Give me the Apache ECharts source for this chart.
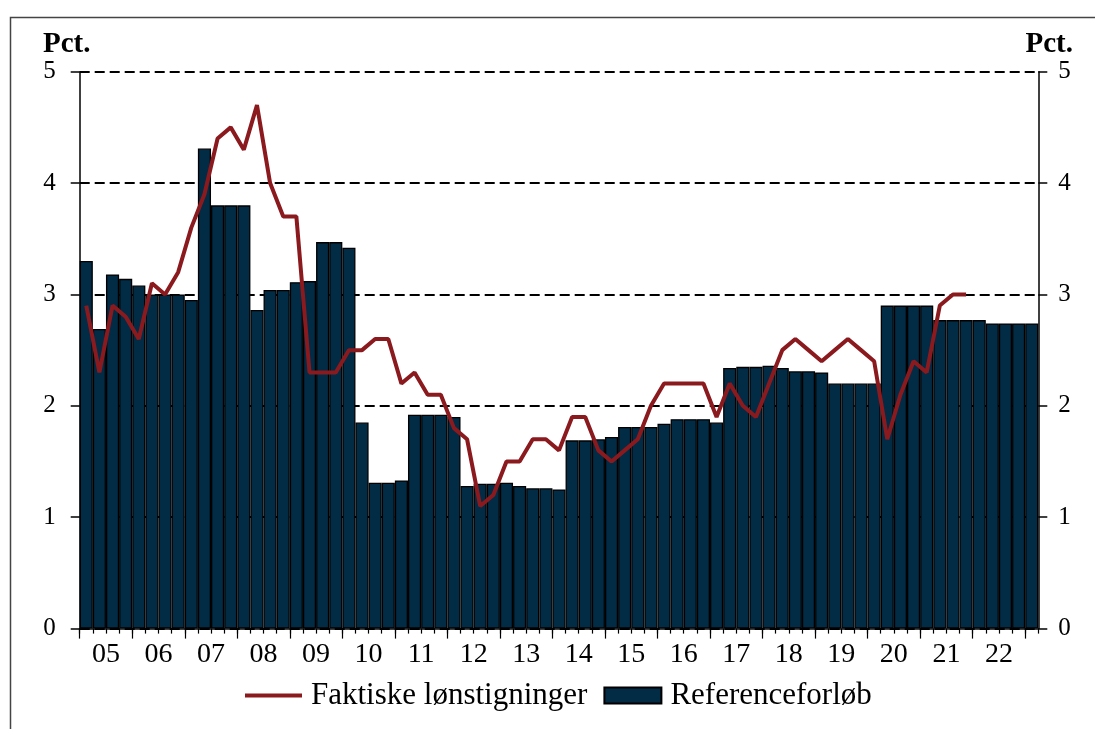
<!DOCTYPE html>
<html>
<head>
<meta charset="utf-8">
<script src="https://cdn.jsdelivr.net/npm/echarts@6/dist/echarts.min.js"></script>
<style>
html,body{margin:0;padding:0;background:#fff;}
#chart{width:1095px;height:729px;}
</style>
</head>
<body>
<div id="chart"></div>
<script>
// Quarters 2005K1 .. 2023K1
const years = ['05','06','07','08','09','10','11','12','13','14','15','16','17','18','19','20','21','22','23'];
const quarters = [];
years.forEach(y => { for (let q = 1; q <= 4; q++) quarters.push('20' + y + 'K' + q); });
const categories = quarters.slice(0, 73);

// Year tick labels on the axis
const yearLabels = ['05','06','07','08','09','10','11','12','13','14','15','16','17','18','19','20','21','22'];

// Referenceforløb (bars), pct.
const referenceforloeb = [
  3.30, 2.69, 3.18, 3.14,  3.08, 3.00, 3.00, 3.00,  2.95, 4.31, 3.80, 3.80,
  3.80, 2.86, 3.04, 3.04,  3.11, 3.12, 3.47, 3.47,  3.42, 1.85, 1.31, 1.31,
  1.33, 1.92, 1.92, 1.92,  1.90, 1.28, 1.30, 1.30,  1.31, 1.28, 1.26, 1.26,
  1.25, 1.69, 1.69, 1.70,  1.72, 1.81, 1.81, 1.81,  1.84, 1.88, 1.88, 1.88,
  1.85, 2.34, 2.35, 2.35,  2.36, 2.34, 2.31, 2.31,  2.30, 2.20, 2.20, 2.20,
  2.20, 2.90, 2.90, 2.90,  2.90, 2.77, 2.77, 2.77,  2.77, 2.74, 2.74, 2.74,
  2.74
];

// Faktiske lønstigninger (line), pct.
const faktiske = [
  2.9, 2.3, 2.9, 2.8,  2.6, 3.1, 3.0, 3.2,  3.6, 3.9, 4.4, 4.5,
  4.3, 4.7, 4.0, 3.7,  3.7, 2.3, 2.3, 2.3,  2.5, 2.5, 2.6, 2.6,
  2.2, 2.3, 2.1, 2.1,  1.8, 1.7, 1.1, 1.2,  1.5, 1.5, 1.7, 1.7,
  1.6, 1.9, 1.9, 1.6,  1.5, 1.6, 1.7, 2.0,  2.2, 2.2, 2.2, 2.2,
  1.9, 2.2, 2.0, 1.9,  2.2, 2.5, 2.6, 2.5,  2.4, 2.5, 2.6, 2.5,
  2.4, 1.7, 2.1, 2.4,  2.3, 2.9, 3.0, 3.0,
  null, null, null, null, null
];

const yTicks = [0, 1, 2, 3, 4, 5];

const FONT = '"Liberation Serif", "Times New Roman", serif';
const BAR_COLOR = '#022B46';
const LINE_COLOR = '#8B1A1F';

const chart = echarts.init(document.getElementById('chart'), null, {renderer: 'canvas'});

const yearTickPos = yearLabels.map((_, i) => i * 4).concat([72]);
const yearLabelPos = yearLabels.map((_, i) => i * 4 + 2);

const yAxisCommon = {
  type: 'value',
  min: yTicks[0],
  max: yTicks[yTicks.length - 1],
  interval: 1,
  axisLine: {show: true, lineStyle: {color: '#000', width: 1.5}},
  axisTick: {show: true, inside: false, length: 9, lineStyle: {color: '#000', width: 1.5}},
  axisLabel: {color: '#000', fontFamily: FONT, fontSize: 25}
};

chart.setOption({
  animation: false,
  backgroundColor: '#fff',
  textStyle: {fontFamily: FONT},
  grid: {left: 79.7, right: 56.7, top: 71.7, bottom: 100.4, containLabel: false},
  xAxis: [
    {
      type: 'category',
      data: categories,
      position: 'bottom',
      boundaryGap: true,
      axisLine: {show: true, lineStyle: {color: '#000', width: 1.5}},
      axisTick: {show: true, interval: 0, length: 5, lineStyle: {color: '#000', width: 1.2}},
      axisLabel: {show: false},
      splitLine: {show: false}
    },
    {
      type: 'value',
      min: 0,
      max: 73,
      position: 'bottom',
      axisLine: {show: false},
      axisTick: {show: true, length: 10, customValues: yearTickPos, lineStyle: {color: '#000', width: 1.2}},
      axisLabel: {
        show: true,
        customValues: yearLabelPos,
        margin: 12,
        color: '#000',
        fontFamily: FONT,
        fontSize: 28,
        formatter: v => yearLabels[Math.round((v - 2) / 4)]
      },
      splitLine: {show: false}
    }
  ],
  yAxis: [
    Object.assign({}, yAxisCommon, {
      position: 'left',
      splitLine: {show: true, lineStyle: {color: '#000', width: 1.8, type: [10, 5]}},
      axisLabel: Object.assign({}, yAxisCommon.axisLabel, {margin: 24})
    }),
    Object.assign({}, yAxisCommon, {
      position: 'right',
      splitLine: {show: false},
      axisLabel: Object.assign({}, yAxisCommon.axisLabel, {margin: 20})
    })
  ],
  legend: {
    left: 243,
    top: 680,
    padding: 0,
    itemGap: 16,
    itemWidth: 57,
    itemHeight: 16,
    textStyle: {color: '#000', fontFamily: FONT, fontSize: 31, padding: [0, 0, 0, 4]},
    data: [
      {
        name: 'Faktiske lønstigninger',
        itemStyle: {opacity: 0},
        lineStyle: {color: LINE_COLOR, width: 4}
      },
      {
        name: 'Referenceforløb',
        icon: 'rect',
        itemStyle: {color: BAR_COLOR, borderColor: '#000', borderWidth: 2}
      }
    ]
  },
  series: [
    {
      name: 'Referenceforløb',
      type: 'bar',
      xAxisIndex: 0,
      yAxisIndex: 0,
      data: referenceforloeb,
      barWidth: '100%',
      barCategoryGap: '0%',
      itemStyle: {color: BAR_COLOR, borderColor: '#000', borderWidth: 1.3},
      emphasis: {disabled: true}
    },
    {
      name: 'Faktiske lønstigninger',
      type: 'line',
      xAxisIndex: 0,
      yAxisIndex: 0,
      data: faktiske,
      symbol: 'none',
      connectNulls: false,
      lineStyle: {color: LINE_COLOR, width: 4},
      itemStyle: {color: LINE_COLOR},
      z: 5,
      emphasis: {disabled: true}
    }
  ],
  graphic: [
    {
      type: 'rect',
      shape: {x: 10.5, y: 17.5, width: 1200, height: 800},
      style: {fill: 'none', stroke: '#444', lineWidth: 1.5},
      silent: true, z: -10
    },
    {
      type: 'text', left: 43, top: 30,
      style: {text: 'Pct.', font: 'bold 29px ' + FONT, fill: '#000'}
    },
    {
      type: 'text', right: 22, top: 30,
      style: {text: 'Pct.', font: 'bold 29px ' + FONT, fill: '#000'}
    }
  ]
});
</script>
</body>
</html>
